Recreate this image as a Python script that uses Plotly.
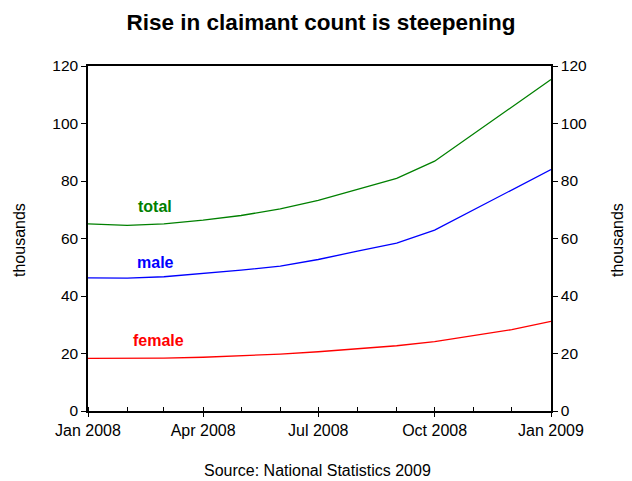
import plotly.graph_objects as go

months = ["2008-01-01", "2008-02-01", "2008-03-01", "2008-04-01", "2008-05-01", "2008-06-01",
          "2008-07-01", "2008-08-01", "2008-09-01", "2008-10-01", "2008-11-01", "2008-12-01",
          "2009-01-01"]
total = [65.1, 64.6, 65.1, 66.4, 68.0, 70.3, 73.3, 77.0, 80.9, 86.9, 96.5, 105.7, 115.3]
male = [46.3, 46.2, 46.7, 47.8, 49.0, 50.4, 52.7, 55.6, 58.4, 62.9, 70.1, 77.0, 84.0]
female = [18.3, 18.3, 18.4, 18.7, 19.2, 19.8, 20.6, 21.7, 22.7, 24.1, 26.3, 28.3, 31.2]
y_ticks = [0, 20, 40, 60, 80, 100, 120]

GREEN = "#008000"
BLUE = "#0000FF"
RED = "#FF0000"
FONT = "Liberation Sans, Arial, sans-serif"

W, H = 632, 481
L, R, T, B = 88, 81, 66, 70
PW, PH = W - L - R, H - T - B

fig = go.Figure()
fig.add_trace(go.Scatter(x=months, y=total, mode="lines", line=dict(color=GREEN, width=1.3), name="total"))
fig.add_trace(go.Scatter(x=months, y=male, mode="lines", line=dict(color=BLUE, width=1.3), name="male"))
fig.add_trace(go.Scatter(x=months, y=female, mode="lines", line=dict(color=RED, width=1.3), name="female"))
# invisible trace to activate the right-hand axis
fig.add_trace(go.Scatter(x=months, y=total, mode="lines", line=dict(width=0), opacity=0,
                         yaxis="y2", hoverinfo="skip", showlegend=False))

labels = [("total", "2008-02-23", 71.1, GREEN),
          ("male", "2008-02-23", 51.7, BLUE),
          ("female", "2008-02-26", 24.5, RED)]
for txt, xx, yy, col in labels:
    fig.add_annotation(x=xx, y=yy, text="<b>%s</b>" % txt, showarrow=False,
                       font=dict(family=FONT, size=16, color=col), xanchor="center", yanchor="middle")

def px_x(p):
    return (p - L) / PW

def px_y(p):
    return (H - B - p) / PH

# source note
fig.add_annotation(x=px_x(317), y=px_y(470), xref="paper", yref="paper",
                   text="Source: National Statistics 2009", showarrow=False,
                   font=dict(family=FONT, size=16, color="black"), xanchor="center", yanchor="middle")
# axis titles
for xp in (19, 617):
    fig.add_annotation(x=px_x(xp), y=px_y(240), xref="paper", yref="paper", text="thousands",
                       showarrow=False, textangle=-90,
                       font=dict(family=FONT, size=16, color="black"),
                       xanchor="center", yanchor="middle")

fig.update_layout(
    width=W, height=H,
    margin=dict(l=L, r=R, t=T, b=B, autoexpand=False),
    paper_bgcolor="white", plot_bgcolor="white",
    showlegend=False,
    title=dict(text="<b>Rise in claimant count is steepening</b>", x=px_x(321), xanchor="center",
               xref="paper", y=1 - 22 / H, yanchor="middle",
               font=dict(family=FONT, size=22.5, color="black")),
    font=dict(family=FONT, size=15.5, color="black"),
    xaxis=dict(type="date", range=["2008-01-01", "2009-01-01"], showgrid=False, zeroline=False,
               showline=True, linecolor="black", linewidth=1.5, mirror=True, automargin=False,
               tickmode="array", tickvals=months[::3], tickformat="%b %Y",
               ticks="outside", ticklen=4, tickcolor="black",
               minor=dict(ticks="inside", ticklen=4, tickcolor="black", dtick="M1", tick0="2008-01-01"),
               tickfont=dict(family=FONT, size=16)),
    yaxis=dict(range=[0, 120], tickvals=y_ticks, showgrid=False, zeroline=False, automargin=False,
               showline=True, linecolor="black", linewidth=1.5,
               ticks="outside", ticklen=5, tickcolor="black",
               tickfont=dict(family=FONT, size=15.5)),
    yaxis2=dict(range=[0, 120], tickvals=y_ticks, overlaying="y", side="right", showgrid=False,
                zeroline=False, showline=True, linecolor="black", linewidth=1.5, automargin=False,
                ticks="outside", ticklen=5, tickcolor="black",
                tickfont=dict(family=FONT, size=15.5)),
)

fig.write_html("out.html", config={"displayModeBar": False},
               post_script="document.body.style.margin='0';document.body.style.overflow='hidden';")
